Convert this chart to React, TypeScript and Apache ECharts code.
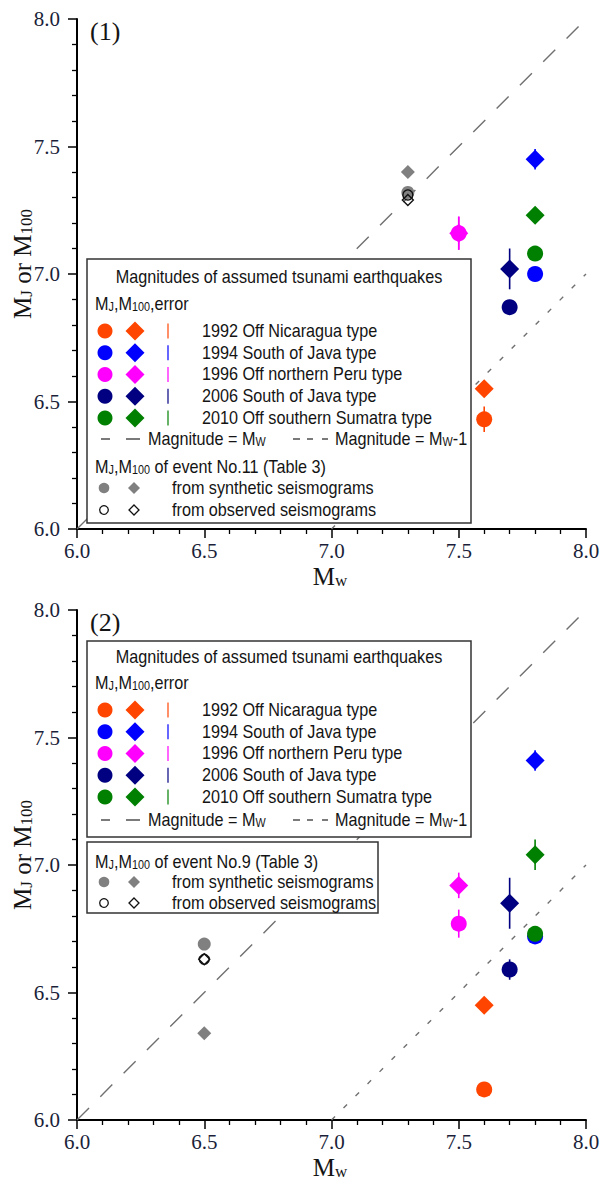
import React, { useEffect, useRef } from "react";
import * as echarts from "echarts";

// ---------- data ----------
const groupNames = [
  "1992 Off Nicaragua type",
  "1994 South of Java type",
  "1996 Off northern Peru type",
  "2006 South of Java type",
  "2010 Off southern Sumatra type",
];
const groupColors = ["#ff4500", "#0000ff", "#ff00ff", "#000080", "#008000"];
const groupMw = [7.6, 7.8, 7.5, 7.7, 7.8];

// Panel (1)
const p1MJ = [6.43, 7.0, 7.16, 6.87, 7.08];
const p1MJerr = [0.05, 0.02, 0.065, 0.02, 0.02];
const p1M100 = [6.55, 7.45, 7.16, 7.02, 7.23];
const p1M100err = [0.02, 0.04, 0.065, 0.08, 0.02];
const p1EventMw = 7.3;
const p1SynMJ = 7.32;
const p1SynM100 = 7.4;
const p1ObsMJ = 7.31;
const p1ObsM100 = 7.29;

// Panel (2)
const p2MJ = [6.12, 6.72, 6.77, 6.59, 6.73];
const p2MJerr = [0.02, 0.03, 0.055, 0.04, 0.02];
const p2M100 = [6.45, 7.41, 6.92, 6.85, 7.04];
const p2M100err = [0.02, 0.04, 0.05, 0.1, 0.06];
const p2EventMw = 6.5;
const p2SynMJ = 6.69;
const p2SynM100 = 6.34;
const p2ObsMJ = 6.63;
const p2ObsM100 = 6.63;

const axisMin = 6;
const axisMax = 8;
const axisStep = 0.5;
const panelLabels = ["(1)", "(2)"];
const eventLabels = ["event No.11 (Table 3)", "event No.9 (Table 3)"];

// ---------- styling ----------
const SANS = "Liberation Sans, Arial, sans-serif";
const SERIF = "Liberation Serif, Times New Roman, serif";
const TXT = "#141414";
const AXTXT = "#1b1f3a";
const PANEL_DY = 591;

function axisCommon(gi: number) {
  return {
    type: "value" as const,
    gridIndex: gi,
    min: axisMin,
    max: axisMax,
    interval: axisStep,
    axisLine: { show: true, onZero: false, lineStyle: { color: "#000", width: 2 } },
    axisTick: { show: true, inside: false, length: 9, lineStyle: { color: "#000", width: 1.5 } },
    minorTick: { show: true, splitNumber: 5, length: 5, lineStyle: { color: "#000", width: 1.3 } },
    splitLine: { show: false },
    minorSplitLine: { show: false },
  };
}

function richMain(size: number, family: string) {
  const sub = Math.round(size * 0.66);
  return {
    n: { fontSize: size, fontFamily: family, fill: TXT, lineHeight: size, verticalAlign: "top" },
    s: {
      fontSize: sub,
      fontFamily: family,
      fill: TXT,
      lineHeight: sub,
      verticalAlign: "bottom",
      padding: [Math.round(size * 0.3), 0, 0, 0],
    },
  };
}

function sansText(x: number, y: number, text: string, align = "left", rich = false) {
  return {
    type: "text",
    x,
    y,
    scaleX: 0.9,
    z: 100,
    style: {
      text,
      fill: TXT,
      fontFamily: SANS,
      fontSize: 18,
      align,
      verticalAlign: "middle",
      ...(rich ? { rich: richMain(18, SANS) } : {}),
    },
  };
}

function diamondPts(cx: number, cy: number, w: number, h: number) {
  return [
    [cx, cy - h / 2],
    [cx + w / 2, cy],
    [cx, cy + h / 2],
    [cx - w / 2, cy],
  ];
}

function legendGraphics(pi: number) {
  const els: any[] = [];
  const isP1 = pi === 0;
  const box1 = isP1 ? { x: 87, y: 259, w: 384, h: 264 } : { x: 87, y: 641, w: 384, h: 196 };
  const titleY = isP1 ? 277 : 657;
  const headY = isP1 ? 304 : 683;
  const row0 = isP1 ? 331 : 710;
  const lineRowY = isP1 ? 439 : 820;
  const subHeadY = isP1 ? 467 : 862;
  const synY = isP1 ? 488 : 882;
  const obsY = isP1 ? 510 : 903;

  els.push({
    type: "rect",
    z: 90,
    shape: { x: box1.x, y: box1.y, width: box1.w, height: box1.h },
    style: { fill: "#fff", stroke: "#333", lineWidth: 1.5 },
  });
  if (!isP1) {
    els.push({
      type: "rect",
      z: 90,
      shape: { x: 87, y: 842, width: 291, height: 71 },
      style: { fill: "#fff", stroke: "#333", lineWidth: 1.5 },
    });
  }
  els.push(sansText(279, titleY, "Magnitudes of assumed tsunami earthquakes", "center"));
  els.push(sansText(95, headY, "{n|M}{s|J}{n|,M}{s|100}{n|,error}", "left", true));

  groupNames.forEach((name, i) => {
    const y = row0 + i * 21.75;
    const c = groupColors[i];
    els.push({ type: "circle", z: 100, shape: { cx: 105, cy: y, r: 7.5 }, style: { fill: c } });
    els.push({ type: "polygon", z: 100, shape: { points: diamondPts(135, y, 19, 19) }, style: { fill: c } });
    els.push({ type: "line", z: 100, shape: { x1: 168, y1: y - 7.5, x2: 168, y2: y + 7.5 }, style: { stroke: c, lineWidth: 1.2 } });
    els.push(sansText(202, y, name));
  });

  // line legend
  const lc = "#222";
  els.push({ type: "line", z: 100, shape: { x1: 101, y1: lineRowY, x2: 110, y2: lineRowY }, style: { stroke: lc, lineWidth: 1.2 } });
  els.push({ type: "line", z: 100, shape: { x1: 126, y1: lineRowY, x2: 140, y2: lineRowY }, style: { stroke: lc, lineWidth: 1.2 } });
  els.push(sansText(148, lineRowY, "{n|Magnitude = M}{s|W}", "left", true));
  [[293, 300], [307, 313], [322, 328]].forEach(([a, b]) => {
    els.push({ type: "line", z: 100, shape: { x1: a, y1: lineRowY, x2: b, y2: lineRowY }, style: { stroke: lc, lineWidth: 1.2 } });
  });
  els.push(sansText(335, lineRowY, "{n|Magnitude = M}{s|W}{n|-1}", "left", true));

  // event sub-legend
  els.push(sansText(95, subHeadY, "{n|M}{s|J}{n|,M}{s|100}{n| of " + eventLabels[pi] + "}", "left", true));
  els.push({ type: "circle", z: 100, shape: { cx: 104, cy: synY, r: 5.3 }, style: { fill: "#808080" } });
  els.push({ type: "polygon", z: 100, shape: { points: diamondPts(134, synY, 12, 12) }, style: { fill: "#808080" } });
  els.push(sansText(172, synY, "from synthetic seismograms"));
  els.push({ type: "circle", z: 100, shape: { cx: 104, cy: obsY, r: 4.3 }, style: { fill: "#fff", stroke: "#111", lineWidth: 1.3 } });
  els.push({ type: "polygon", z: 100, shape: { points: diamondPts(134, obsY, 10, 10) }, style: { fill: "#fff", stroke: "#111", lineWidth: 1.3 } });
  els.push(sansText(172, obsY, "from observed seismograms"));
  return els;
}

function axisTitles(pi: number) {
  const dy = pi * PANEL_DY;
  return [
    {
      type: "text",
      x: 90,
      y: 31 + dy,
      z: 50,
      style: { text: panelLabels[pi], fill: TXT, fontFamily: SERIF, fontSize: 26, align: "left", verticalAlign: "middle" },
    },
    {
      type: "text",
      x: 330,
      y: 576 + dy,
      z: 50,
      style: {
        text: "{n|M}{s|w}",
        fill: TXT,
        fontFamily: SERIF,
        fontSize: 25,
        align: "center",
        verticalAlign: "middle",
        rich: richMain(25, SERIF),
      },
    },
    {
      type: "text",
      x: 22,
      y: 264 + dy,
      rotation: Math.PI / 2,
      z: 50,
      style: {
        text: "{n|M}{s|J}{n| or M}{s|100}",
        fill: TXT,
        fontFamily: SERIF,
        fontSize: 25,
        align: "center",
        verticalAlign: "middle",
        rich: richMain(25, SERIF),
      },
    },
  ];
}

function panelSeries(pi: number) {
  const MJ = pi === 0 ? p1MJ : p2MJ;
  const MJerr = pi === 0 ? p1MJerr : p2MJerr;
  const M100 = pi === 0 ? p1M100 : p2M100;
  const M100err = pi === 0 ? p1M100err : p2M100err;
  const evMw = pi === 0 ? p1EventMw : p2EventMw;
  const synMJ = pi === 0 ? p1SynMJ : p2SynMJ;
  const synM100 = pi === 0 ? p1SynM100 : p2SynM100;
  const obsMJ = pi === 0 ? p1ObsMJ : p2ObsMJ;
  const obsM100 = pi === 0 ? p1ObsM100 : p2ObsM100;
  const axisIdx = { xAxisIndex: pi, yAxisIndex: pi };

  const errData: number[][] = [];
  groupMw.forEach((mw, i) => {
    errData.push([mw, MJ[i] - MJerr[i], MJ[i] + MJerr[i], i]);
    errData.push([mw, M100[i] - M100err[i], M100[i] + M100err[i], i]);
  });

  return [
    {
      type: "line",
      ...axisIdx,
      data: [[axisMin, axisMin], [axisMax, axisMax]],
      symbol: "none",
      silent: true,
      z: 1,
      lineStyle: { color: "#707070", width: 1.4, type: [17, 16] },
    },
    {
      type: "line",
      ...axisIdx,
      data: [[axisMin + 1, axisMin], [axisMax, axisMax - 1]],
      symbol: "none",
      silent: true,
      z: 1,
      lineStyle: { color: "#707070", width: 1.4, type: [5, 12] },
    },
    {
      type: "custom",
      ...axisIdx,
      z: 2,
      data: errData,
      renderItem: (params: any, api: any) => {
        const x = api.value(0);
        const a = api.coord([x, api.value(1)]);
        const b = api.coord([x, api.value(2)]);
        return {
          type: "line",
          shape: { x1: a[0], y1: a[1], x2: b[0], y2: b[1] },
          style: { stroke: groupColors[api.value(3)], lineWidth: 1.6 },
        };
      },
    },
    {
      type: "scatter",
      ...axisIdx,
      z: 3,
      symbol: "diamond",
      symbolSize: [19, 19],
      data: groupMw.map((mw, i) => ({ value: [mw, M100[i]], itemStyle: { color: groupColors[i], opacity: 1 } })),
    },
    {
      type: "scatter",
      ...axisIdx,
      z: 4,
      symbol: "circle",
      symbolSize: 16,
      data: groupMw.map((mw, i) => ({ value: [mw, MJ[i]], itemStyle: { color: groupColors[i], opacity: 1 } })),
    },
    {
      type: "scatter",
      ...axisIdx,
      z: 4,
      symbol: "diamond",
      symbolSize: [14, 14],
      itemStyle: { color: "#808080", opacity: 1 },
      data: [[evMw, synM100]],
    },
    {
      type: "scatter",
      ...axisIdx,
      z: 4,
      symbol: "circle",
      symbolSize: 13,
      itemStyle: { color: "#808080", opacity: 1 },
      data: [[evMw, synMJ]],
    },
    {
      type: "scatter",
      ...axisIdx,
      z: 5,
      symbol: "diamond",
      symbolSize: [11, 11],
      itemStyle: { color: "rgba(255,255,255,0)", borderColor: "#111", borderWidth: 1.4, opacity: 1 },
      data: [[evMw, obsM100]],
    },
    {
      type: "scatter",
      ...axisIdx,
      z: 5,
      symbol: "circle",
      symbolSize: 10,
      itemStyle: { color: "rgba(255,255,255,0)", borderColor: "#111", borderWidth: 1.4, opacity: 1 },
      data: [[evMw, obsMJ]],
    },
  ];
}

export default function App() {
  const ref = useRef<HTMLDivElement>(null);
  useEffect(() => {
    if (!ref.current) return;
    const chart = echarts.init(ref.current, undefined, { renderer: "svg" });
    const label = { formatter: (v: number) => v.toFixed(1), fontFamily: SERIF, fontSize: 21, lineHeight: 19, color: AXTXT };
    const option: any = {
      animation: false,
      backgroundColor: "#fff",
      grid: [
        { left: 77, top: 19, width: 509, height: 510, outerBoundsMode: "none" },
        { left: 77, top: 19 + PANEL_DY, width: 509, height: 510, outerBoundsMode: "none" },
      ],
      xAxis: [0, 1].map((gi) => ({ ...axisCommon(gi), position: "bottom", axisLabel: { ...label, margin: 12 } })),
      yAxis: [0, 1].map((gi) => ({ ...axisCommon(gi), position: "left", axisLabel: { ...label, margin: 17 } })),
      series: [...panelSeries(0), ...panelSeries(1)],
      graphic: [...axisTitles(0), ...axisTitles(1), ...legendGraphics(0), ...legendGraphics(1)],
    };
    chart.setOption(option);
    return () => chart.dispose();
  }, []);
  return <div ref={ref} style={{ position: "absolute", left: 0, top: 0, width: 603, height: 1180 }} />;
}
